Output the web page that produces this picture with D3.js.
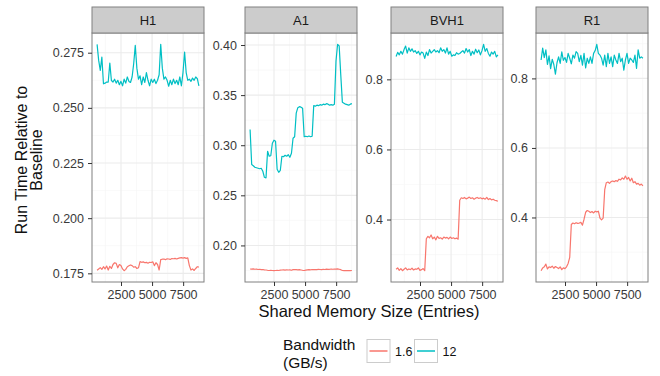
<!DOCTYPE html>
<html><head><meta charset="utf-8">
<script src="https://cdn.jsdelivr.net/npm/d3@7"></script>
<style>
body{margin:0;background:#fff}
svg{display:block}
text{font-family:"Liberation Sans",Arial,Helvetica,sans-serif}
</style>
</head><body>
<svg id="c" width="660" height="376"></svg>
<script>
// ---------------- data ----------------
const sizes = [576,704,832,960,1088,1216,1344,1472,1600,1728,1856,1984,2112,2240,2368,2496,2624,2752,2880,3008,3136,3264,3392,3520,3648,3776,3904,4032,4160,4288,4416,4544,4672,4800,4928,5056,5184,5312,5440,5568,5696,5824,5952,6080,6208,6336,6464,6592,6720,6848,6976,7104,7232,7360,7488,7616,7744,7872,8000,8128,8256,8384,8512,8640,8768];
const panels = ["H1","A1","BVH1","R1"];
const bandwidths = ["1.6","12"];
const xTicks = [2500,5000,7500];
const h1Ticks = [0.175,0.200,0.225,0.250,0.275];
const a1Ticks = [0.20,0.25,0.30,0.35,0.40];
const bvh1Ticks = [0.4,0.6,0.8];
const r1Ticks = [0.4,0.6,0.8];

const h1_16 = [0.1764,0.1770,0.1776,0.1768,0.1780,0.1770,0.1783,0.1765,0.1782,0.1772,0.1790,0.1798,0.1795,0.1775,0.1790,0.1785,0.1770,0.1762,0.1768,0.1780,0.1784,0.1788,0.1785,0.1778,0.1780,0.1772,0.1775,0.1803,0.1800,0.1802,0.1798,0.1800,0.1796,0.1800,0.1799,0.1802,0.1785,0.1798,0.1790,0.1765,0.1812,0.1814,0.1815,0.1812,0.1816,0.1815,0.1813,0.1817,0.1816,0.1818,0.1815,0.1818,0.1820,0.1821,0.1819,0.1821,0.1818,0.1820,0.1785,0.1765,0.1770,0.1763,0.1772,0.1780,0.1778];
const h1_12 = [0.2788,0.2715,0.2670,0.2730,0.2609,0.2612,0.2617,0.2617,0.2703,0.2624,0.2617,0.2630,0.2612,0.2625,0.2605,0.2620,0.2600,0.2630,0.2612,0.2640,0.2620,0.2615,0.2640,0.2700,0.2783,0.2680,0.2630,0.2645,0.2605,0.2640,0.2615,0.2660,0.2625,0.2600,0.2630,0.2615,0.2630,0.2610,0.2625,0.2650,0.2788,0.2680,0.2630,0.2640,0.2625,0.2598,0.2625,0.2605,0.2630,0.2610,0.2625,0.2605,0.2640,0.2600,0.2660,0.2753,0.2660,0.2625,0.2630,0.2620,0.2635,0.2625,0.2640,0.2632,0.2600];
const a1_16 = [0.1765,0.1763,0.1766,0.1762,0.1764,0.1760,0.1762,0.1758,0.1760,0.1756,0.1755,0.1752,0.1750,0.1752,0.1750,0.1748,0.1750,0.1752,0.1750,0.1753,0.1755,0.1756,0.1754,0.1757,0.1755,0.1756,0.1752,0.1758,0.1760,0.1758,0.1756,0.1758,0.1755,0.1752,0.1750,0.1754,0.1756,0.1758,0.1757,0.1760,0.1758,0.1760,0.1758,0.1762,0.1760,0.1758,0.1762,0.1760,0.1763,0.1761,0.1762,0.1764,0.1762,0.1765,0.1763,0.1766,0.1762,0.1758,0.1750,0.1748,0.1750,0.1748,0.1750,0.1749,0.1750];
const a1_12 = [0.3157,0.2807,0.2795,0.2780,0.2775,0.2770,0.2765,0.2770,0.2740,0.2680,0.2674,0.2940,0.2890,0.2895,0.3020,0.3050,0.3040,0.2760,0.2730,0.2750,0.2890,0.2885,0.2900,0.2890,0.2905,0.2880,0.2920,0.3070,0.3085,0.3320,0.3375,0.3385,0.3380,0.3370,0.3085,0.3090,0.3085,0.3092,0.3085,0.3090,0.3395,0.3390,0.3400,0.3395,0.3405,0.3400,0.3410,0.3405,0.3415,0.3410,0.3400,0.3405,0.3400,0.3410,0.3840,0.4007,0.3990,0.3700,0.3430,0.3420,0.3410,0.3405,0.3400,0.3410,0.3415];
const bvh1_16 = [0.258,0.262,0.255,0.260,0.254,0.258,0.262,0.256,0.259,0.257,0.261,0.256,0.259,0.258,0.262,0.255,0.257,0.260,0.254,0.345,0.352,0.348,0.356,0.345,0.350,0.342,0.352,0.346,0.348,0.344,0.350,0.347,0.349,0.345,0.350,0.346,0.348,0.345,0.347,0.344,0.455,0.462,0.460,0.463,0.459,0.461,0.464,0.460,0.462,0.458,0.461,0.463,0.460,0.462,0.459,0.461,0.458,0.463,0.457,0.460,0.456,0.458,0.455,0.454,0.452];
const bvh1_12 = [0.865,0.877,0.870,0.880,0.872,0.885,0.895,0.875,0.890,0.880,0.887,0.878,0.882,0.874,0.880,0.870,0.878,0.875,0.860,0.878,0.868,0.885,0.875,0.880,0.885,0.878,0.882,0.876,0.890,0.880,0.885,0.875,0.890,0.872,0.880,0.866,0.870,0.868,0.876,0.872,0.874,0.878,0.882,0.875,0.888,0.878,0.885,0.868,0.880,0.872,0.886,0.876,0.884,0.870,0.882,0.900,0.880,0.888,0.874,0.866,0.878,0.872,0.880,0.864,0.870];
const r1_16 = [0.247,0.255,0.258,0.266,0.252,0.258,0.256,0.260,0.254,0.259,0.256,0.253,0.258,0.250,0.255,0.253,0.258,0.268,0.285,0.380,0.384,0.382,0.385,0.383,0.384,0.386,0.378,0.395,0.415,0.420,0.418,0.414,0.417,0.413,0.418,0.416,0.418,0.398,0.393,0.398,0.480,0.500,0.502,0.498,0.503,0.505,0.503,0.506,0.504,0.510,0.508,0.514,0.510,0.519,0.510,0.515,0.505,0.513,0.500,0.503,0.496,0.498,0.493,0.496,0.491];
const r1_12 = [0.853,0.887,0.860,0.882,0.840,0.865,0.828,0.855,0.840,0.8125,0.845,0.862,0.843,0.876,0.852,0.860,0.846,0.872,0.858,0.842,0.867,0.858,0.877,0.872,0.848,0.866,0.838,0.872,0.830,0.858,0.843,0.862,0.843,0.872,0.880,0.898,0.872,0.867,0.858,0.838,0.867,0.834,0.872,0.843,0.862,0.834,0.867,0.853,0.843,0.872,0.848,0.858,0.824,0.853,0.872,0.843,0.858,0.853,0.846,0.867,0.829,0.882,0.858,0.862,0.858];

const seriesByPanel = {H1:[h1_16,h1_12], A1:[a1_16,a1_12], BVH1:[bvh1_16,bvh1_12], R1:[r1_16,r1_12]};
const ticksByPanel = {H1:h1Ticks, A1:a1Ticks, BVH1:bvh1Ticks, R1:r1Ticks};
const fmtByPanel = {H1:d3.format(".3f"), A1:d3.format(".2f"), BVH1:d3.format(".1f"), R1:d3.format(".1f")};

// ---------------- layout ----------------
const colors = ["#F8766D","#00BFC4"];
const panelLefts = [92,245,391,536];
const pw = 112;
const stripTop = 7, plotTop = 33, plotBottom = 282;
const gridMajor = "#EBEBEB", gridMinor = "#F5F5F5";
const borderCol = "#808080", textCol = "#3a3a3a";

const svg = d3.select("#c");
svg.append("rect").attr("width",660).attr("height",376).attr("fill","#fff");

function expand(ext){const d=ext[1]-ext[0];return [ext[0]-0.05*d, ext[1]+0.05*d];}
function minors(ticks, dom){
  const step = ticks[1]-ticks[0];
  const out=[];
  for(let i=-1;i<ticks.length;i++){const m=ticks[0]+step*(i+0.5); if(m>dom[0]&&m<dom[1]) out.push(m);}
  return out;
}

const xDom = expand(d3.extent(sizes));

panels.forEach((p,pi)=>{
  const x0 = panelLefts[pi];
  const x = d3.scaleLinear().domain(xDom).range([x0, x0+pw]);
  const all = seriesByPanel[p][0].concat(seriesByPanel[p][1]);
  const yDom = expand(d3.extent(all));
  const y = d3.scaleLinear().domain(yDom).range([plotBottom, plotTop]);
  const g = svg.append("g");
  g.append("rect").attr("x",x0).attr("y",plotTop).attr("width",pw).attr("height",plotBottom-plotTop).attr("fill","#fff");
  const xMin = minors(xTicks, xDom), yMin = minors(ticksByPanel[p], yDom);
  g.selectAll(null).data(xMin).join("line").attr("x1",d=>x(d)).attr("x2",d=>x(d)).attr("y1",plotTop).attr("y2",plotBottom).attr("stroke",gridMinor).attr("stroke-width",0.6);
  g.selectAll(null).data(yMin).join("line").attr("y1",d=>y(d)).attr("y2",d=>y(d)).attr("x1",x0).attr("x2",x0+pw).attr("stroke",gridMinor).attr("stroke-width",0.6);
  g.selectAll(null).data(xTicks).join("line").attr("x1",d=>x(d)).attr("x2",d=>x(d)).attr("y1",plotTop).attr("y2",plotBottom).attr("stroke",gridMajor).attr("stroke-width",1.1);
  g.selectAll(null).data(ticksByPanel[p]).join("line").attr("y1",d=>y(d)).attr("y2",d=>y(d)).attr("x1",x0).attr("x2",x0+pw).attr("stroke",gridMajor).attr("stroke-width",1.1);
  const line = d3.line().x((d,i)=>x(sizes[i])).y(d=>y(d));
  seriesByPanel[p].forEach((s,si)=>{
    g.append("path").datum(s).attr("d",line).attr("fill","none").attr("stroke",colors[si]).attr("stroke-width",1.2).attr("stroke-linejoin","round");
  });
  g.append("rect").attr("x",x0).attr("y",plotTop).attr("width",pw).attr("height",plotBottom-plotTop).attr("fill","none").attr("stroke",borderCol).attr("stroke-width",1);
  g.append("rect").attr("x",x0).attr("y",stripTop).attr("width",pw).attr("height",plotTop-stripTop).attr("fill","#CCCCCC").attr("stroke",borderCol).attr("stroke-width",1);
  g.append("text").attr("x",x0+pw/2).attr("y",(stripTop+plotTop)/2).attr("dy","0.36em").attr("text-anchor","middle").attr("font-size","13px").attr("fill","#1a1a1a").text(p);
  const ya = g.append("g").attr("transform",`translate(${x0},0)`).call(d3.axisLeft(y).tickValues(ticksByPanel[p]).tickFormat(fmtByPanel[p]).tickSize(4).tickPadding(4));
  const xa = g.append("g").attr("transform",`translate(0,${plotBottom})`).call(d3.axisBottom(x).tickValues(xTicks).tickFormat(d3.format("d")).tickSize(4).tickPadding(4.5));
  [ya,xa].forEach(a=>{
    a.select(".domain").remove();
    a.selectAll(".tick line").attr("stroke","#333").attr("stroke-width",1);
    a.selectAll(".tick text").attr("fill",textCol).attr("font-size","12.5px").attr("font-family","Liberation Sans, Arial, sans-serif");
  });
});

svg.append("text").attr("x",369).attr("y",317).attr("text-anchor","middle").attr("font-size","16.5px").attr("fill","#111").text("Shared Memory Size (Entries)");
const yt = svg.append("g").attr("transform","translate(0,160) rotate(-90)");
yt.append("text").attr("x",0).attr("y",27).attr("text-anchor","middle").attr("font-size","16px").attr("fill","#111").text("Run Time Relative to");
yt.append("text").attr("x",0).attr("y",42).attr("text-anchor","middle").attr("font-size","16px").attr("fill","#111").text("Baseline");

const lg = svg.append("g");
lg.append("text").attr("x",283).attr("y",349.5).attr("font-size","15.5px").attr("fill","#111").text("Bandwidth");
lg.append("text").attr("x",283).attr("y",367.5).attr("font-size","15.5px").attr("fill","#111").text("(GB/s)");
const keyX = [367, 414.5], labX = [395, 442.5];
bandwidths.forEach((b,i)=>{
  lg.append("rect").attr("x",keyX[i]).attr("y",339.5).attr("width",23).attr("height",23).attr("fill","#fff").attr("stroke","#CCCCCC").attr("stroke-width",1);
  lg.append("line").attr("x1",keyX[i]+2.5).attr("x2",keyX[i]+20.5).attr("y1",351).attr("y2",351).attr("stroke",colors[i]).attr("stroke-width",1.5);
  lg.append("text").attr("x",labX[i]).attr("y",351).attr("dy","0.36em").attr("font-size","12.5px").attr("fill","#111").text(b);
});
</script>
</body></html>
